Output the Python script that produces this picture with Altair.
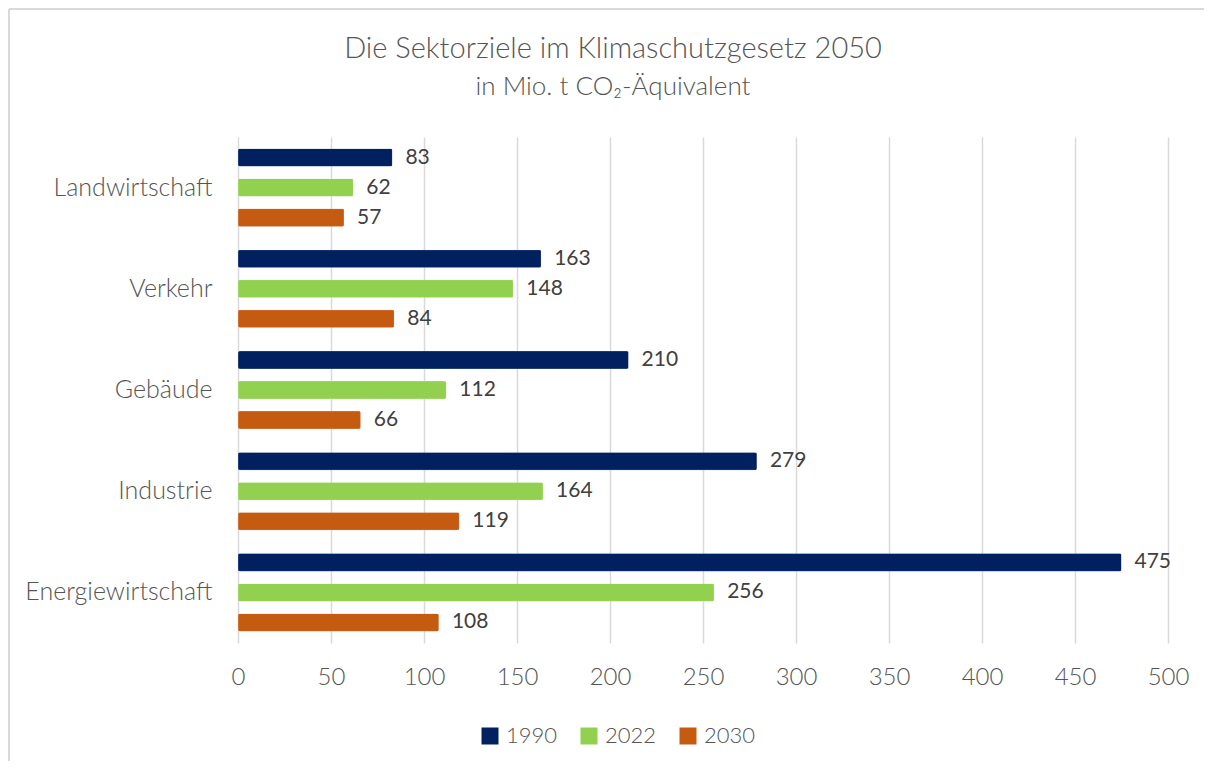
import altair as alt
import pandas as pd

categories = ["Landwirtschaft", "Verkehr", "Gebäude", "Industrie", "Energiewirtschaft"]
years = ["1990", "2022", "2030"]
values_1990 = [83, 163, 210, 279, 475]
values_2022 = [62, 148, 112, 164, 256]
values_2030 = [57, 84, 66, 119, 108]
colors = ["#002060", "#92D050", "#C55A11"]

rows = []
for yr, vals in zip(years, [values_1990, values_2022, values_2030]):
    for c, v in zip(categories, vals):
        rows.append({"Sektor": c, "Jahr": yr, "Wert": v})
df = pd.DataFrame(rows)

FONT = "Lato"

y_enc = alt.Y("Sektor:N", sort=categories, title=None,
              scale=alt.Scale(paddingInner=0.11, paddingOuter=0.055),
              axis=alt.Axis(labelFontSize=25, labelColor="#555555", labelFont=FONT,
                            labelFontWeight=300, labelLimit=400,
                            labelPadding=26, ticks=False, domain=False, grid=False))
yoff = alt.YOffset("Jahr:N", sort=years,
                   scale=alt.Scale(paddingInner=0.4, paddingOuter=0.2))
x_enc = alt.X("Wert:Q", title=None,
              scale=alt.Scale(domain=[0, 500], nice=False),
              axis=alt.Axis(values=list(range(0, 501, 50)), labelFontSize=24,
                            labelColor="#555555", labelFont=FONT, labelFontWeight=300,
                            labelPadding=22, labelFlush=False,
                            ticks=False, domain=False, grid=True,
                            gridColor="#d9d9d9", gridWidth=1.5))

bars = alt.Chart(df).mark_bar(cornerRadius=2, stroke="#ffffff", strokeOpacity=0.3, strokeWidth=0.5).encode(
    x=x_enc, y=y_enc, yOffset=yoff,
    color=alt.Color("Jahr:N", sort=years,
                    scale=alt.Scale(domain=years, range=colors),
                    legend=alt.Legend(title=None, orient="none", direction="horizontal",
                                      legendX=241, legendY=588,
                                      symbolType="square", symbolSize=289,
                                      symbolStrokeWidth=0, labelFontSize=22,
                                      labelFont=FONT, labelFontWeight=300,
                                      labelColor="#555555",
                                      labelOffset=5, columnPadding=20))
)

labels = alt.Chart(df).mark_text(align="left", baseline="middle", dx=13,
                                 fontSize=21, font=FONT, color="#404040").encode(
    x="Wert:Q", y=alt.Y("Sektor:N", sort=categories), yOffset=yoff, text="Wert:Q"
)

frame = alt.Chart(alt.Data(values=[{}])).mark_rule(color="#d9d9d9", strokeWidth=2).encode(
    x=alt.value(-229), y=alt.value(-128), y2=alt.value(624)
)
frame_top = alt.Chart(alt.Data(values=[{}])).mark_rule(color="#d9d9d9", strokeWidth=2).encode(
    x=alt.value(-229), x2=alt.value(966), y=alt.value(-128)
)

chart = alt.layer(frame, frame_top, bars, labels).properties(
    width=930, height=506,
    title=alt.TitleParams(
        "Die Sektorziele im Klimaschutzgesetz 2050",
        subtitle="in Mio. t CO₂-Äquivalent",
        anchor="middle", frame="group", dx=-90, offset=-92,
        font=FONT, fontSize=29, fontWeight=300, color="#555555",
        subtitleFont=FONT, subtitleFontSize=26, subtitleFontWeight=300,
        subtitleColor="#555555",
        subtitlePadding=10,
    ),
    background="white",
    autosize=alt.AutoSizeParams(type="none"),
    padding={"left": 230, "top": 129, "right": 36, "bottom": 118},
).configure_view(strokeWidth=0)

chart.save("out.html", embed_options={"renderer": "svg", "actions": False})
